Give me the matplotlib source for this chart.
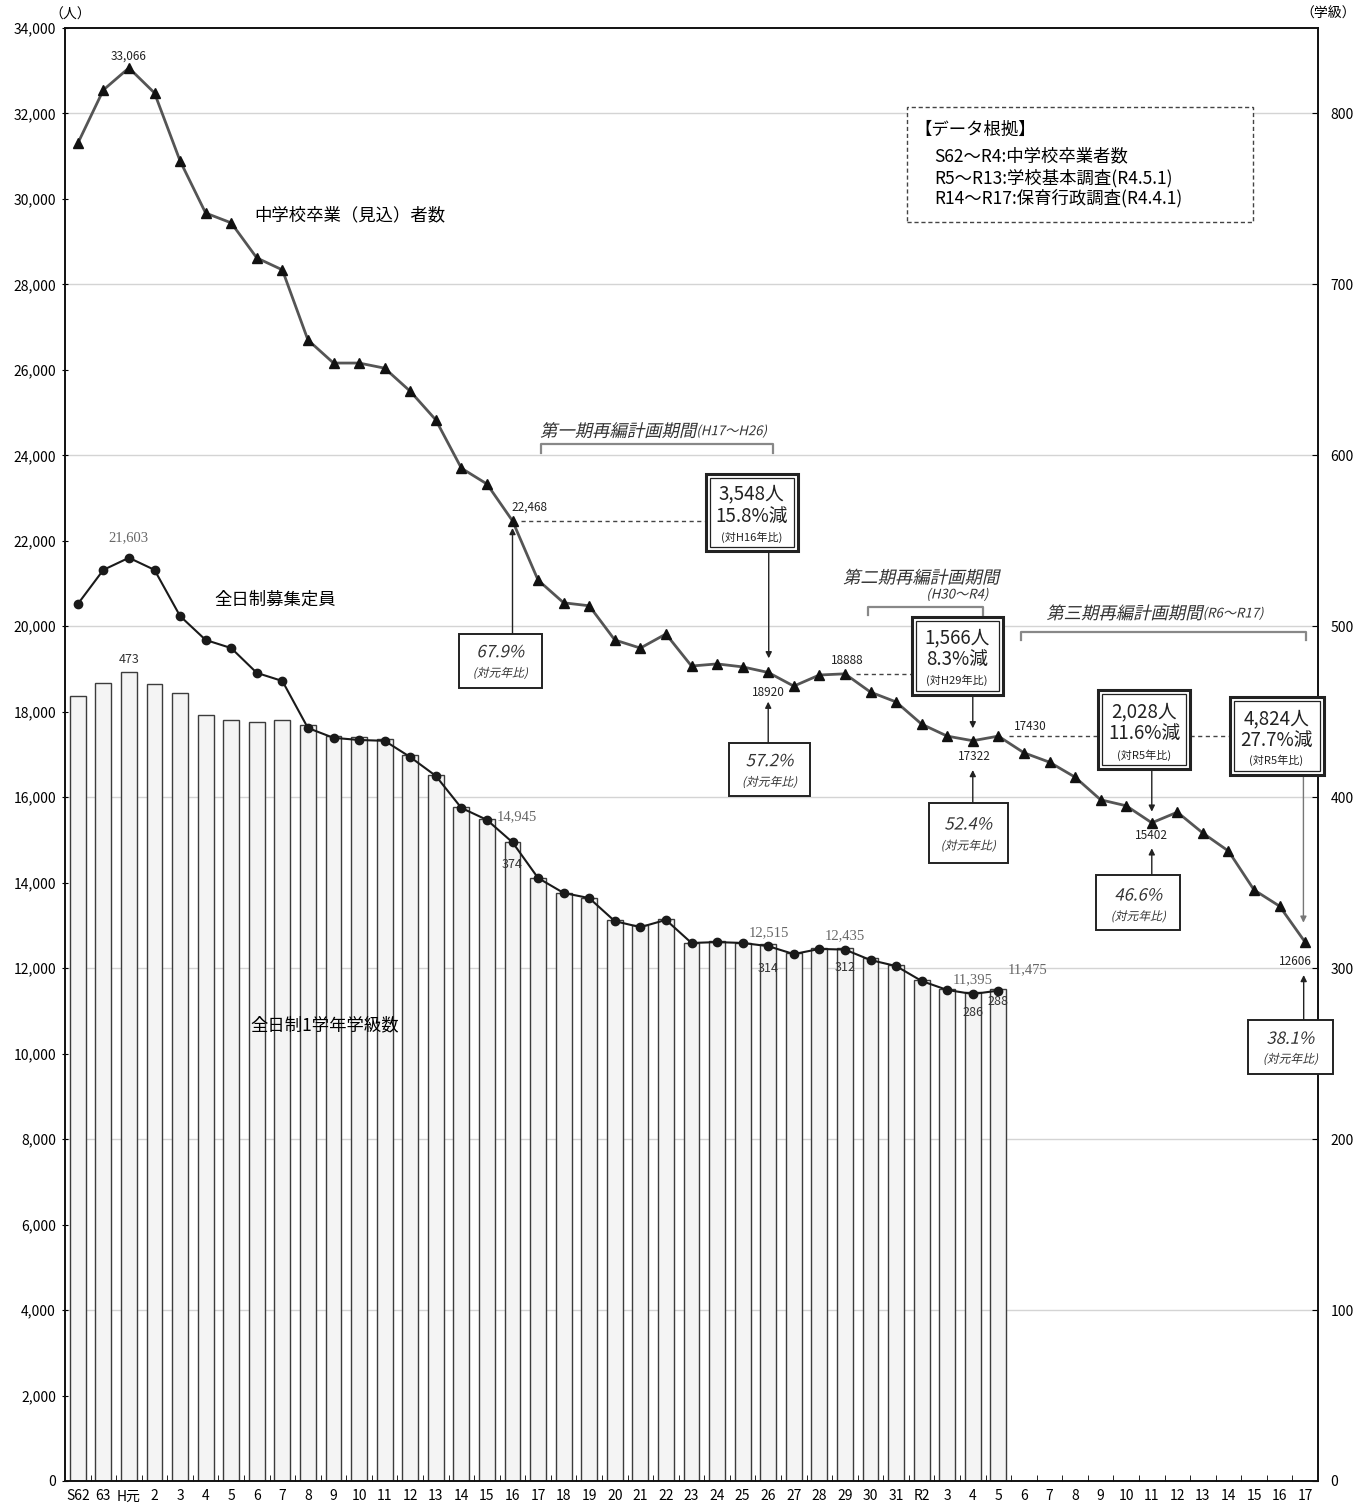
import numpy as np
import matplotlib
matplotlib.use('Agg')
import matplotlib.pyplot as plt
from matplotlib.patches import Rectangle
from matplotlib.patheffects import AbstractPathEffect
from matplotlib.transforms import Affine2D
from matplotlib.ticker import FuncFormatter

plt.rcParams['font.family'] = ['Noto Sans CJK JP', 'DejaVu Sans']

# ---------------- data ----------------
years = ['S62', '63', 'H元'] + [str(i) for i in range(2, 32)] + ['R2'] + [str(i) for i in range(3, 18)]

graduates = [31300, 32550, 33066, 32480, 30890, 29670, 29440, 28620, 28340, 26700,
             26160, 26160, 26040, 25500, 24830, 23700, 23330, 22468, 21080, 20550,
             20480, 19680, 19490, 19820, 19070, 19120, 19050, 18920, 18600, 18860,
             18888, 18460, 18230, 17710, 17430, 17322, 17430, 17040, 16820, 16470,
             15940, 15800, 15402, 15650, 15160, 14740, 13830, 13450, 12606]

enrollment = [20520, 21320, 21603, 21320, 20240, 19680, 19490, 18910, 18720, 17620,
              17390, 17340, 17320, 16940, 16500, 15750, 15470, 14945, 14110, 13760,
              13640, 13100, 12960, 13130, 12590, 12610, 12590, 12515, 12330, 12450,
              12435, 12190, 12050, 11700, 11490, 11395, 11475]

classes = [459, 467, 473, 466, 461, 448, 445, 444, 445, 442,
           436, 435, 434, 425, 413, 394, 387, 374, 353, 344,
           341, 328, 325, 329, 315, 316, 315, 314, 309, 312,
           312, 306, 302, 293, 288, 286, 288]

left_ticks = list(range(0, 34001, 2000))
right_ticks = list(range(0, 801, 100))


class Oblique(AbstractPathEffect):
    """Slants glyph outlines of a real Text artist (synthetic italic)."""
    def __init__(self, angle=13):
        super().__init__()
        self._skew = Affine2D().skew_deg(angle, 0)

    def draw_path(self, renderer, gc, tpath, affine, rgbFace=None):
        renderer.draw_path(gc, tpath, self._skew + affine, rgbFace)


OBL = [Oblique()]

fig = plt.figure(figsize=(13.7, 15.06), dpi=100)
ax = fig.add_axes([65 / 1370, 25 / 1506, 1253 / 1370, 1453 / 1506])
axb = ax.twinx()
ax.set_zorder(axb.get_zorder() + 1)
ax.patch.set_visible(False)

x = np.arange(len(years))
xb = x[:len(classes)]

# bars (right axis)
axb.bar(xb, classes, width=0.62, color='#f4f4f4', edgecolor='#3c3c3c', linewidth=1.0, zorder=2)
axb.set_ylim(0, 850)
axb.set_yticks(right_ticks)
axb.yaxis.grid(True, color='#d4d4d4', linewidth=1.0)
axb.set_axisbelow(True)
axb.tick_params(axis='y', direction='in', length=4, labelsize=10, pad=9)

# lines (left axis)
ax.plot(x, graduates, color='#555555', lw=2, marker='^', ms=7, mfc='#111111', mec='#111111', zorder=4)
ax.plot(xb, enrollment, color='#1a1a1a', lw=1.5, marker='o', ms=6, mfc='#1a1a1a', mec='#1a1a1a', zorder=4)
ax.set_xlim(-0.5, 48.5)
ax.set_ylim(0, 34000)
ax.set_yticks(left_ticks)
ax.yaxis.set_major_formatter(FuncFormatter(lambda v, p: f'{int(v):,}'))
ax.set_xticks(x)
ax.set_xticklabels(years)
ax.set_xticks(x[:-1] + 0.5, minor=True)
ax.tick_params(axis='x', which='major', length=0, pad=6, labelsize=10)
ax.tick_params(axis='x', which='minor', direction='in', length=4)
ax.tick_params(axis='y', direction='inout', length=5, labelsize=10, pad=4)
for a in (ax, axb):
    for s in a.spines.values():
        s.set_linewidth(1.2)
        s.set_color('#111111')

# unit labels
fig.text(70 / 1370, 1 - 15 / 1506, '（人）', ha='center', va='center', fontsize=10)
fig.text(1328 / 1370, 1 - 14 / 1506, '（学級）', ha='center', va='center', fontsize=10)

# ---------------- value labels ----------------
def lab(a, xi, yv, s, dx, dy, **kw):
    kw.setdefault('fontsize', 8.5)
    kw.setdefault('color', '#222222')
    a.annotate(s, (xi, yv), xytext=(dx, dy), textcoords='offset pixels',
               ha='center', va='center', zorder=7, annotation_clip=False, **kw)

lab(ax, 2, graduates[2], '33,066', 0, 12)
lab(ax, 17, graduates[17], '22,468', 17, 14)
lab(ax, 27, graduates[27], '18920', 0, -20)
lab(ax, 30, graduates[30], '18888', 2, 13)
lab(ax, 35, graduates[35], '17322', 2, -16)
lab(ax, 36, graduates[36], '17430', 32, 10)
lab(ax, 42, graduates[42], '15402', 0, -13)
lab(ax, 48, graduates[48], '12606', -10, -19)

serif = dict(family='Liberation Serif', fontsize=10.5, color='#666666')
lab(ax, 2, enrollment[2], '21,603', 0, 20, **serif)
lab(ax, 17, enrollment[17], '14,945', 4, 26, **serif)
lab(ax, 27, enrollment[27], '12,515', 1, 13, **serif)
lab(ax, 30, enrollment[30], '12,435', 0, 14, **serif)
lab(ax, 35, enrollment[35], '11,395', 0, 14, **serif)
lab(ax, 36, enrollment[36], '11,475', 29, 21, **serif)

cls = dict(fontsize=9, color='#333333')
lab(axb, 2, classes[2], '473', 0, 13, **cls)
lab(axb, 17, classes[17], '374', 0, -23, **cls)
lab(axb, 27, classes[27], '314', 0, -24, **cls)
lab(axb, 30, classes[30], '312', 0, -20, **cls)
lab(axb, 35, classes[35], '286', 0, -20, **cls)
lab(axb, 36, classes[36], '288', 0, -13, **cls)

# series names
ax.text(10.63, 29624, '中学校卒業（見込）者数', ha='center', va='center', fontsize=12.5, zorder=7)
ax.text(7.70, 20615, '全日制募集定員', ha='center', va='center', fontsize=12.5, zorder=7)
ax.text(9.65, 10670, '全日制1学年学級数', ha='center', va='center', fontsize=12.5, zorder=7)

# data source box
ax.add_patch(Rectangle((32.42, 29454), 45.95 - 32.42, 32159 - 29454, fill=True, fc='white',
                       ec='#444444', lw=1.0, ls=(0, (3, 2)), zorder=6))
ax.text(32.73, 31603, '【データ根拠】', ha='left', va='center', fontsize=12.5, zorder=7)
ax.text(33.5, 30989, 'S62～R4:中学校卒業者数', ha='left', va='center', fontsize=12.5, zorder=7)
ax.text(33.5, 30483, 'R5～R13:学校基本調査(R4.5.1)', ha='left', va='center', fontsize=12.5, zorder=7)
ax.text(33.5, 30015, 'R14～R17:保育行政調査(R4.4.1)', ha='left', va='center', fontsize=12.5, zorder=7)

# period brackets
def bracket(x0, x1, ytop, yend):
    ax.plot([x0, x0, x1, x1], [yend, ytop, ytop, yend], color='#888888', lw=1.6, zorder=5,
            solid_joinstyle='round', clip_on=False)

bracket(18.13, 27.18, 24266, 24062)
bracket(30.90, 35.38, 20458, 20270)
bracket(36.89, 48.03, 19859, 19670)

ital = dict(va='center', color='#333333', path_effects=OBL, zorder=7)
ax.text(24.19, 24554, '第一期再編計画期間', ha='right', fontsize=12.5, **ital)
ax.text(24.19, 24554, '(H17～H26)', ha='left', fontsize=9.5, **ital)
ax.text(32.98, 21123, '第二期再編計画期間', ha='center', fontsize=12.5, **ital)
ax.text(34.40, 20732, '(H30～R4)', ha='center', fontsize=9.5, **ital)
ax.text(43.99, 20288, '第三期再編計画期間', ha='right', fontsize=12.5, **ital)
ax.text(43.99, 20288, '(R6～R17)', ha='left', fontsize=9.5, **ital)

# dotted reference lines
dot = dict(color='#444444', lw=1.0, ls=(0, (3, 2.5)), zorder=5)
ax.plot([17.34, 24.55], [graduates[17], graduates[17]], **dot)
ax.plot([30.44, 32.62], [graduates[30], graduates[30]], **dot)
ax.plot([36.40, 39.91], [graduates[36], graduates[36]], **dot)
ax.plot([43.51, 45.07], [graduates[36], graduates[36]], **dot)

# arrows
def arrow(xi, y_from, y_to, color='#222222'):
    ax.annotate('', xy=(xi, y_to), xytext=(xi, y_from),
                arrowprops=dict(arrowstyle='-|>', color=color, lw=1.0, mutation_scale=9,
                                shrinkA=0, shrinkB=0), zorder=5, annotation_clip=False)

# double-border boxes
def dbox(x0, x1, y0, y1, cx, rows):
    ax.add_patch(Rectangle((x0, y0), x1 - x0, y1 - y0, fc='white', ec='#222222', lw=2.2,
                           zorder=6, clip_on=False))
    ax.add_patch(Rectangle((x0 + 0.16, y0 + 94), x1 - x0 - 0.32, y1 - y0 - 188, fill=False,
                           ec='#222222', lw=0.9, zorder=6, clip_on=False))
    for s, yv, fs in rows:
        ax.text(cx, yv, s, ha='center', va='center', fontsize=fs, color='#222222', zorder=7,
                clip_on=False)

def sbox(x0, x1, y0, y1, cx, pct, ypct, ysub):
    ax.add_patch(Rectangle((x0, y0), x1 - x0, y1 - y0, fc='white', ec='#222222', lw=1.4,
                           zorder=6, clip_on=False))
    ax.text(cx, ypct, pct, ha='center', va='center', fontsize=12, color='#333333',
            path_effects=OBL, zorder=7, clip_on=False)
    ax.text(cx, ysub, '(対元年比)', ha='center', va='center', fontsize=8.5, color='#333333',
            path_effects=OBL, zorder=7, clip_on=False)

dbox(24.55, 28.15, 21762, 23557, 26.35,
     [('3,548人', 23100, 13.5), ('15.8%減', 22560, 13.5), ('(対H16年比)', 22080, 8)])
dbox(32.62, 36.17, 18392, 20211, 34.39,
     [('1,566人', 19742, 13.5), ('8.3%減', 19228, 13.5), ('(対H29年比)', 18727, 8)])
dbox(39.91, 43.51, 16654, 18509, 41.71,
     [('2,028人', 18002, 13.5), ('11.6%減', 17496, 13.5), ('(対R5年比)', 16988, 8)])
dbox(45.07, 48.75, 16520, 18353, 46.86,
     [('4,824人', 17847, 13.5), ('27.7%減', 17323, 13.5), ('(対R5年比)', 16871, 8)])

arrow(27.02, 21762, 19251)
arrow(35.0, 18392, 17613)
arrow(42.0, 16654, 15662)
arrow(47.93, 16520, 13064, color='#777777')

sbox(14.89, 18.15, 18549, 19820, 16.52, '67.9%', 19382, 18900)
sbox(25.46, 28.64, 16029, 17276, 27.05, '57.2%', 16832, 16349)
sbox(33.27, 36.37, 14468, 15858, 34.82, '52.4%', 15350, 14859)
sbox(39.82, 43.12, 12893, 14173, 41.47, '46.6%', 13689, 13205)
sbox(45.78, 49.07, 9524, 10787, 47.42, '38.1%', 10336, 9868)

arrow(17.0, 19820, 22300)
arrow(27.0, 17276, 18236)
arrow(35.0, 15858, 16637)
arrow(42.0, 14173, 14805)
arrow(47.94, 10787, 11840)

fig.savefig('out.png', dpi=100)
